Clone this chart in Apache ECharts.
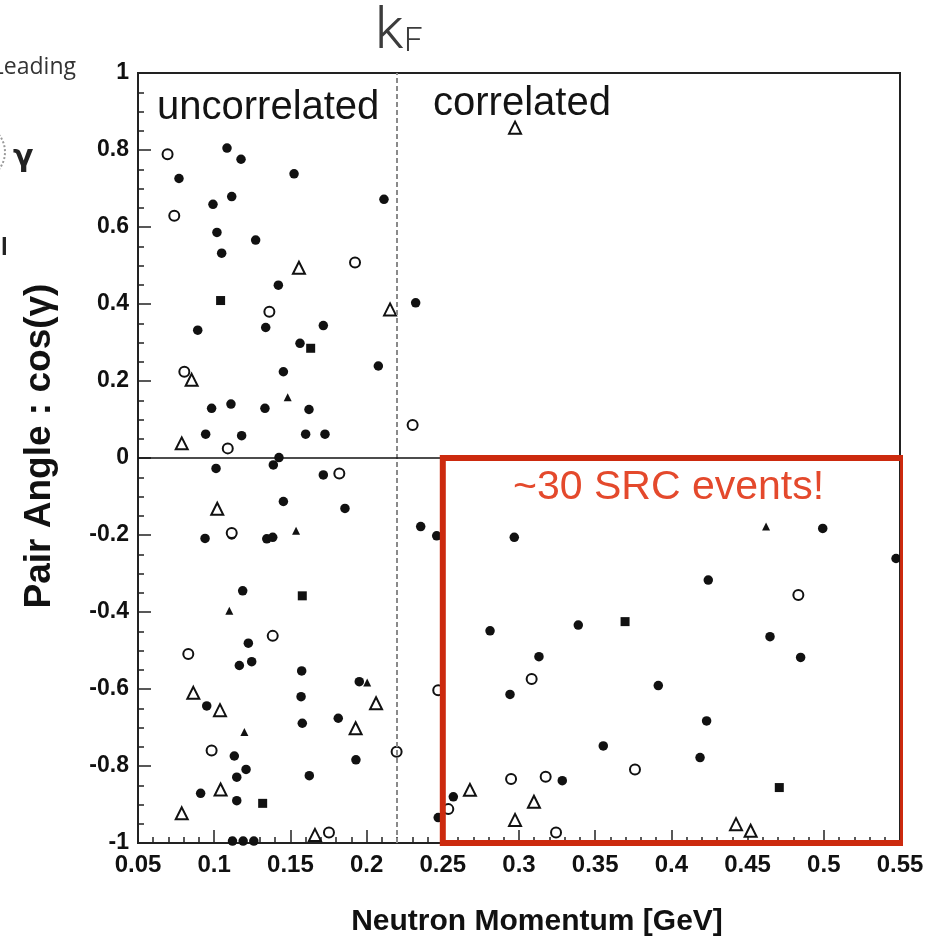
<!DOCTYPE html>
<html>
<head>
<meta charset="utf-8">
<script src="https://cdn.jsdelivr.net/npm/echarts@6/dist/echarts.min.js"></script>
<style>
  html, body { margin: 0; padding: 0; background: #fff; }
  #chart { width: 952px; height: 950px; }
</style>
</head>
<body>
<div id="chart"></div>
<script>
// Neutron momentum [GeV] vs. pair opening angle cos(gamma), one array per marker style.
const filledCircles = [
  [0.1084, 0.805], [0.1176, 0.776], [0.0769, 0.726], [0.1524, 0.738], [0.1115, 0.679],
  [0.0992, 0.659], [0.2114, 0.672], [0.1018, 0.586], [0.1272, 0.566], [0.1049, 0.532],
  [0.1421, 0.449], [0.2322, 0.403], [0.0892, 0.332], [0.1338, 0.339], [0.1716, 0.344],
  [0.1563, 0.298], [0.2077, 0.239], [0.1454, 0.224], [0.0983, 0.129], [0.1110, 0.140],
  [0.1333, 0.129], [0.1622, 0.126], [0.0944, 0.062], [0.1180, 0.058], [0.1600, 0.062],
  [0.1727, 0.062], [0.1425, 0.001], [0.1388, -0.018], [0.1012, -0.027], [0.1716, -0.044],
  [0.1454, -0.113], [0.1858, -0.131], [0.2355, -0.178], [0.0940, -0.209], [0.1115, -0.200],
  [0.1345, -0.210], [0.1384, -0.206], [0.2460, -0.202], [0.2969, -0.206], [0.1187, -0.345],
  [0.1224, -0.481], [0.1165, -0.539], [0.1246, -0.529], [0.1574, -0.553], [0.1952, -0.581],
  [0.1570, -0.620], [0.0951, -0.644], [0.1814, -0.676], [0.1578, -0.689], [0.1132, -0.774],
  [0.1930, -0.784], [0.1209, -0.809], [0.1148, -0.829], [0.1624, -0.825], [0.0911, -0.871],
  [0.1148, -0.890], [0.1120, -0.995], [0.1190, -0.995], [0.1260, -0.995],
  [0.2810, -0.449], [0.3389, -0.434], [0.3131, -0.516], [0.2941, -0.614], [0.3914, -0.591],
  [0.3553, -0.748], [0.3284, -0.838], [0.2569, -0.880], [0.2470, -0.934], [0.4993, -0.183],
  [0.5474, -0.261], [0.4242, -0.317], [0.4647, -0.464], [0.4848, -0.518], [0.4231, -0.683],
  [0.4188, -0.778]
];
const openCircles = [
  [0.0694, 0.789], [0.0738, 0.629], [0.1924, 0.508], [0.1362, 0.380], [0.0804, 0.224],
  [0.2302, 0.086], [0.1089, 0.025], [0.1821, -0.040], [0.1115, -0.195], [0.1384, -0.462],
  [0.0830, -0.509], [0.0983, -0.760], [0.2197, -0.763], [0.1753, -0.973], [0.2470, -0.603],
  [0.3083, -0.574], [0.3761, -0.809], [0.2948, -0.834], [0.3175, -0.828], [0.2536, -0.912],
  [0.3243, -0.973], [0.4833, -0.356]
];
const openTriangles = [
  [0.1556, 0.494], [0.2154, 0.386], [0.0852, 0.203], [0.0787, 0.038], [0.1020, -0.132],
  [0.0863, -0.610], [0.2062, -0.637], [0.1038, -0.655], [0.1928, -0.702], [0.1042, -0.861],
  [0.0787, -0.923], [0.1661, -0.979], [0.2678, -0.862], [0.3098, -0.893], [0.2974, -0.940],
  [0.4424, -0.951], [0.4520, -0.968], [0.2974, 0.858]
];
const filledTriangles = [
  [0.1482, 0.158], [0.1537, -0.189], [0.1099, -0.397], [0.2004, -0.583], [0.1198, -0.712],
  [0.4621, -0.178]
];
const filledSquares = [
  [0.1042, 0.409], [0.1633, 0.285], [0.1578, -0.358], [0.1318, -0.897], [0.3696, -0.425],
  [0.4708, -0.856]
];

// Fermi momentum boundary and the short-range-correlation window [xMin, xMax, yMin, yMax]
const fermiMomentum = 0.22;
const srcWindow = [0.25, 0.552, -1, 0];

const INK = '#111';
const AXIS_FONT = "'Liberation Sans', Arial, Helvetica, sans-serif";

function round(v) { return String(parseFloat(v.toFixed(2))); }

function markers(name, data, symbol, size, empty) {
  return {
    name, type: 'scatter', data, symbol, symbolSize: size,
    itemStyle: empty
      ? { color: INK, borderColor: INK, borderWidth: 2.2, opacity: 1 }
      : { color: INK, borderWidth: 0, opacity: 1 },
    z: 3, animation: false
  };
}

const [bx0, bx1, by0, by1] = srcWindow;

const chart = echarts.init(document.getElementById('chart'), null, { renderer: 'canvas' });
chart.setOption({
  backgroundColor: '#fff',
  animation: false,
  grid: {
    left: 138, right: 52, top: 73, bottom: 107,
    show: true, borderColor: '#222', borderWidth: 2, backgroundColor: 'transparent'
  },
  xAxis: {
    type: 'value', min: 0.05, max: 0.55, interval: 0.05,
    name: 'Neutron Momentum [GeV]', nameLocation: 'middle', nameGap: 64,
    nameTextStyle: { fontFamily: AXIS_FONT, fontWeight: 'bold', fontSize: 30, color: INK, padding: [0, 0, 0, 36] },
    axisLine: { show: true, onZero: false, lineStyle: { color: '#222', width: 2 } },
    axisTick: { show: true, inside: true, length: 13, lineStyle: { color: '#222', width: 1.5 } },
    minorTick: { show: true, splitNumber: 5, length: 6, lineStyle: { color: '#222', width: 1.5 } },
    splitLine: { show: false },
    axisLabel: {
      show: true, margin: 10, fontFamily: AXIS_FONT, fontWeight: 'bold', fontSize: 24, color: INK,
      showMinLabel: true, showMaxLabel: true, formatter: round
    }
  },
  yAxis: {
    type: 'value', min: -1, max: 1, interval: 0.2,
    name: 'Pair Angle : cos(γ)', nameLocation: 'middle', nameGap: 80,
    nameTextStyle: { fontFamily: AXIS_FONT, fontWeight: 'bold', fontSize: 37, color: INK, padding: [0, 0, 0, 24] },
    axisLine: { show: true, onZero: false, lineStyle: { color: '#222', width: 2 } },
    axisTick: { show: true, inside: true, length: 13, lineStyle: { color: '#222', width: 1.5 } },
    minorTick: { show: true, splitNumber: 4, length: 6, lineStyle: { color: '#222', width: 1.5 } },
    splitLine: { show: false },
    axisLabel: {
      show: true, margin: 9, fontFamily: AXIS_FONT, fontWeight: 'bold', fontSize: 23, color: INK,
      showMinLabel: true, showMaxLabel: true, formatter: round
    }
  },
  series: [
    {
      name: 'guides', type: 'line', data: [], silent: true, z: 2,
      markLine: {
        silent: true, symbol: ['none', 'none'], animation: false,
        label: { show: false },
        data: [
          { xAxis: fermiMomentum, lineStyle: { color: '#8a8a8a', width: 2, type: [5, 3] } },
          { yAxis: 0, lineStyle: { color: '#111', width: 1.5, type: 'solid' } }
        ]
      }
    },
    markers('filled circle', filledCircles, 'circle', 9.5, false),
    markers('open circle', openCircles, 'emptyCircle', 10, true),
    markers('open triangle', openTriangles, 'emptyTriangle', 12, true),
    markers('filled triangle', filledTriangles, 'triangle', 8, false),
    markers('filled square', filledSquares, 'rect', 9, false),
    {
      name: 'SRC window', type: 'line', silent: true, clip: false, z: 6,
      symbol: 'none', animation: false,
      data: [[bx0, by1], [bx1, by1], [bx1, by0], [bx0, by0], [bx0, by1]],
      lineStyle: { color: '#cc2a0e', width: 6, join: 'miter', cap: 'square' }
    }
  ],
  graphic: [
    // Region labels and the k_F marker above the dashed boundary
    { type: 'text', left: 157, top: 88, z: 10,
      style: { text: 'uncorrelated', fill: '#141414', font: "40px 'Liberation Sans', Arial, sans-serif" } },
    { type: 'text', left: 433, top: 84, z: 10,
      style: { text: 'correlated', fill: '#141414', font: "40px 'Liberation Sans', Arial, sans-serif" } },
    { type: 'text', left: 513, top: 467, z: 10,
      style: { text: '~30 SRC events!', fill: '#e4492c', font: "41px 'Liberation Sans', Arial, sans-serif" } },
    { type: 'text', left: 375, top: 4, z: 10,
      style: { text: 'k', fill: '#3c3c3c', font: "300 58px Roboto, 'Open Sans', sans-serif" } },
    { type: 'text', left: 404, top: 26, z: 10,
      style: { text: 'F', fill: '#3c3c3c', font: "300 33px Roboto, 'Open Sans', sans-serif" } },
    // Slide fragments at the left edge
    { type: 'text', right: 876, top: 56, z: 10,
      style: { text: 'Leading', fill: '#333', font: "23px 'Open Sans', sans-serif" } },
    { type: 'text', left: 13, top: 143, z: 10,
      style: { text: 'γ', fill: '#222', font: "bold 30px 'DejaVu Sans', sans-serif" } },
    { type: 'text', left: 1, top: 236, z: 10,
      style: { text: 'l', fill: '#222', font: "bold 24px 'Liberation Sans', sans-serif" } },
    { type: 'ellipse', z: 10, shape: { cx: -28, cy: 152, rx: 33, ry: 30 },
      style: { fill: 'none', stroke: '#9a9a9a', lineWidth: 2, lineDash: [2, 2] } }
  ]
});
</script>
</body>
</html>
